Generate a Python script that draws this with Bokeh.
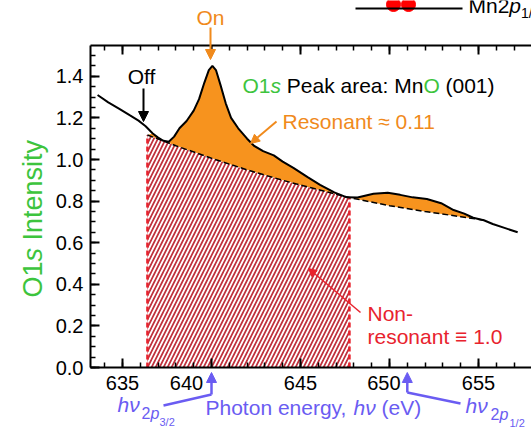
import math
from bokeh.plotting import figure
from bokeh.models import (Range1d, LinearAxis, SingleIntervalTicker, Label, Arrow,
                          NormalHead, PrintfTickFormatter, GridBox)
from bokeh.embed import file_html
from bokeh.resources import INLINE

# ---------------- data ----------------
energy = [633.6, 634.2, 634.8, 635.4, 635.9, 636.3, 636.7, 637.0, 637.3, 637.6,
          637.9, 638.2, 638.6, 639.0, 639.3, 639.6, 639.85, 640.05, 640.25, 640.5,
          640.8, 641.1, 641.5, 642.0, 642.4, 642.9, 643.5, 644.0, 644.6, 645.4,
          646.1, 646.9, 647.6, 648.2, 649.1, 649.9, 650.6, 651.3, 652.1, 652.9,
          653.6, 654.2, 654.7, 655.3, 655.8, 656.5, 657.2]
intensity = [1.31, 1.275, 1.245, 1.213, 1.187, 1.16, 1.125, 1.105, 1.09, 1.085,
             1.11, 1.15, 1.185, 1.235, 1.29, 1.37, 1.43, 1.45, 1.43, 1.36,
             1.27, 1.2, 1.15, 1.10, 1.065, 1.04, 1.02, 0.99, 0.96, 0.915,
             0.878, 0.842, 0.818, 0.817, 0.835, 0.84, 0.83, 0.818, 0.81, 0.79,
             0.757, 0.74, 0.72, 0.708, 0.69, 0.67, 0.65]

bg_energy = [636.4, 638.0, 640.0, 642.0, 644.0, 646.0, 647.75, 650.0, 652.0, 654.0, 655.3]
bg_intensity = [1.118, 1.066, 1.006, 0.950, 0.900, 0.855, 0.817, 0.778, 0.750, 0.725, 0.708]
window_end_index = 6          # hatched (non-resonant) window: bg_energy[0] .. bg_energy[6]

x_ticks = [635, 640, 645, 650, 655]
x_tick_labels = ["635", "640", "645", "650", "655"]
y_ticks = [0.0, 0.2, 0.4, 0.6, 0.8, 1.0, 1.2, 1.4]

mark_on = 640.0     # hv 2p3/2, "On"
mark_p12 = 651.0    # hv 2p1/2

# ---------------- styling ----------------
FONT = "Liberation Sans"
ORANGE_FILL = "#F7931E"
ORANGE = "#F08A1C"
RED = "#E8232E"
HATCH = "#C0303C"
BLUE = "#6A5CF2"
GREEN = "#3DC43D"

W, H = 531, 427
FL, FT, FB = 90, 45, 367          # frame left / top / bottom in page pixels
PX_PER_EV = 17.8
PX_PER_UNIT = 208.0
BASE_SHIFT = 0.33                 # empirical baseline correction (em)

# pixel helpers (for annotation placement only)
def X(px):
    return 635 + (px - 122) / PX_PER_EV

def Y(py):
    return (FB - py) / PX_PER_UNIT

# ---------------- main plot ----------------
p = figure(width=W, height=H,
           x_range=Range1d(X(FL), X(W)), y_range=Range1d(Y(FB), Y(FT)),
           output_backend="svg", toolbar_location=None,
           min_border_left=FL, min_border_right=0, min_border_top=FT, min_border_bottom=H - FB,
           background_fill_color="white", border_fill_color="white",
           outline_line_color=None)
p.grid.visible = False
p.frame_align = False

xticker = SingleIntervalTicker(interval=5, num_minor_ticks=5)
yticker = SingleIntervalTicker(interval=0.2, num_minor_ticks=4)

def style_axis(ax):
    ax.axis_line_width = 2
    ax.axis_line_color = "black"
    ax.major_tick_line_width = 2
    ax.minor_tick_line_width = 1.5
    ax.major_tick_in = 9
    ax.major_tick_out = 0
    ax.minor_tick_in = 5
    ax.minor_tick_out = 0
    ax.major_label_text_font = FONT
    ax.major_label_text_font_size = "20px"
    ax.major_label_text_color = "black"

p.xaxis.ticker = xticker
p.yaxis.ticker = yticker
p.yaxis.formatter = PrintfTickFormatter(format="%.1f")
for ax in p.xaxis + p.yaxis:
    style_axis(ax)
p.xaxis.major_label_standoff = 4
p.yaxis.major_label_standoff = 7
nb = "\u00a0"
p.xaxis.major_label_overrides = {x_ticks[1]: x_tick_labels[1] + nb * 9,
                                 x_ticks[3]: x_tick_labels[3] + nb * 2}

top_axis = LinearAxis(ticker=xticker)
style_axis(top_axis)
top_axis.major_label_text_font_size = "0px"
top_axis.major_label_text_color = None
p.add_layout(top_axis, "above")

i0 = next(i for i, e in enumerate(energy) if e >= bg_energy[0])
i1 = max(i for i, e in enumerate(energy) if e <= bg_energy[-1])
res_x = energy[i0:i1 + 1] + bg_energy[::-1]
res_y = intensity[i0:i1 + 1] + bg_intensity[::-1]
p.patch(res_x, res_y, fill_color=ORANGE_FILL, line_color=None)

w = window_end_index
hx = bg_energy[:w + 1] + [bg_energy[w], bg_energy[0]]
hy = bg_intensity[:w + 1] + [0, 0]
p.patch(hx, hy, fill_color="white", fill_alpha=1.0, line_color=None,
        hatch_pattern="/", hatch_color=HATCH, hatch_scale=8, hatch_weight=1.7)

p.segment(x0=[bg_energy[0], bg_energy[w]], y0=[0, 0],
          x1=[bg_energy[0], bg_energy[w]], y1=[bg_intensity[0], bg_intensity[w]],
          line_color=RED, line_width=2.5, line_dash="5 3")

p.line(bg_energy, bg_intensity, line_color="black", line_width=1.5, line_dash="6 3")
p.line(energy, intensity, line_color="black", line_width=2)

# ---------------- transparent overlay for annotations (same mapping, full canvas) ----------------
q = figure(width=W, height=H, x_range=Range1d(X(0), X(W)), y_range=Range1d(Y(H), Y(0)),
           output_backend="svg", toolbar_location=None,
           x_axis_type=None, y_axis_type=None,
           min_border=0, min_border_left=0, min_border_right=0,
           min_border_top=0, min_border_bottom=0,
           background_fill_color=None, border_fill_color=None,
           outline_line_color=None)
q.grid.visible = False
q.frame_align = False

def lab(text, px, py, color="black", size=21, style="normal", align="left", angle=0.0):
    if angle == 0.0:
        py = py - BASE_SHIFT * size
    else:
        px = px - BASE_SHIFT * size
    q.add_layout(Label(x=X(px), y=Y(py), text=text, text_color=color,
                       text_font=FONT, text_font_size=f"{size}px",
                       text_font_style=style, text_align=align,
                       text_baseline="alphabetic", angle=angle))

def arrow(x0, y0, x1, y1, color, width=2.0, head=True, hsize=10):
    end = NormalHead(size=hsize, fill_color=color, line_color=color, line_width=1) if head else None
    q.add_layout(Arrow(x_start=X(x0), y_start=Y(y0), x_end=X(x1), y_end=Y(y1),
                       line_color=color, line_width=width, end=end))

# "On" and "Off"
lab("On", 210, 24, ORANGE, 21, align="center")
arrow(210, 27, 210, 59, ORANGE)
lab("Off", 141, 83, "black", 21, align="center")
arrow(143, 88, 143, 121, "black")

# title-like annotation
lab("O1", 242, 92, GREEN)
lab("s", 270, 92, GREEN, style="italic")
lab("Peak area: Mn", 286.3, 92, "black")
lab("O", 422.9, 92, GREEN)
lab("(001)", 445, 92, "black")

lab("Resonant \u2248 0.11", 282, 128, ORANGE)
arrow(276, 121, 250, 143, ORANGE, width=2, hsize=9)

lab("Non-", 367, 320, RED)
lab("resonant \u2261 1.0", 367, 343, RED)
arrow(360, 312, 308, 268, RED, width=1.5, hsize=8)

# y axis title (rotated, mixed style)
ya = math.pi / 2
lab("O1", 41, 297, GREEN, 27, angle=ya)
lab("s", 41, 261, GREEN, 27, style="italic", angle=ya)
lab("Intensity", 41, 240, GREEN, 27, angle=ya)

# x axis title (mixed style)
lab("Photon energy,", 205, 414, BLUE)
lab("h\u03bd", 353, 414, BLUE, style="italic")
lab("(eV)", 381, 414, BLUE)

# hv 2p3/2 marker
lab("h\u03bd", 117, 411, BLUE, style="italic")
lab("2", 141, 418, BLUE, 16)
lab("p", 150, 418, BLUE, 16, style="italic")
lab("3/2", 159, 425, BLUE, 11)
q.add_layout(Arrow(x_start=X(163), y_start=Y(405), x_end=mark_on, y_end=Y(394),
                   line_color=BLUE, line_width=2.5, end=None))
q.add_layout(Arrow(x_start=mark_on, y_start=Y(394), x_end=mark_on, y_end=Y(372),
                   line_color=BLUE, line_width=2.5,
                   end=NormalHead(size=10, fill_color=BLUE, line_color=BLUE, line_width=1)))

# hv 2p1/2 marker
lab("h\u03bd", 465, 412, BLUE, style="italic")
lab("2", 490, 419, BLUE, 16)
lab("p", 499, 419, BLUE, 16, style="italic")
lab("1/2", 509, 426, BLUE, 11)
q.add_layout(Arrow(x_start=X(460), y_start=Y(403), x_end=mark_p12, y_end=Y(392),
                   line_color=BLUE, line_width=2.5, end=None))
q.add_layout(Arrow(x_start=mark_p12, y_start=Y(392), x_end=mark_p12, y_end=Y(372),
                   line_color=BLUE, line_width=2.5,
                   end=NormalHead(size=10, fill_color=BLUE, line_color=BLUE, line_width=1)))

# fragment of a legend above the panel (cropped in the reference)
q.add_layout(Arrow(x_start=X(355), y_start=Y(8), x_end=X(462), y_end=Y(8),
                   line_color="black", line_width=2, end=None))
q.scatter(x=[X(393), X(408)], y=[Y(4), Y(4)], size=14, marker="circle",
          fill_color="red", line_color="red")
lab("Mn2", 468, 12, "black")
lab("p", 508.8, 12, "black", style="italic")
lab("1/2", 520.5, 17, "black", 14)

layout = GridBox(children=[(p, 0, 0), (q, 0, 0)])
open("out.html", "w").write(file_html(layout, INLINE))
